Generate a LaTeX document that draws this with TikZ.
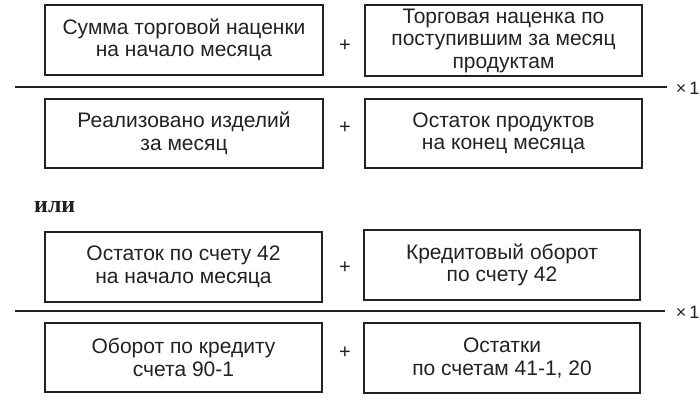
\documentclass[tikz,border=0pt]{standalone}
\usepackage{fontspec}
\setmainfont{Liberation Sans}
\newfontfamily\serifrm{Liberation Serif}
\definecolor{ink}{HTML}{222222}
\begin{document}
\begin{tikzpicture}[x=1pt,y=-1pt,
  box/.style={draw=ink,line width=1.4pt,align=center,inner sep=0pt,
    font=\fontsize{21}{22.5}\selectfont,text=ink},
  opsign/.style={text=ink,font=\fontsize{20}{22}\selectfont,inner sep=0pt},
  frac/.style={draw=ink,line width=1.4pt}]
\clip (0,0) rectangle (700,400);
\fill[white] (0,0) rectangle (700,400);
% first formula
\node[box,minimum width=278pt,minimum height=70pt] (b1) at (184,40) {Сумма торговой наценки\\на начало месяца};
\node[box,minimum width=277pt,minimum height=71pt] (b2) at (503.5,40.5) {Торговая наценка по\\поступившим за месяц\\продуктам};
\node[box,minimum width=278pt,minimum height=69pt] (b3) at (184,133.5) {Реализовано изделий\\за месяц};
\node[box,minimum width=277pt,minimum height=69pt] (b4) at (503.5,133.5) {Остаток продуктов\\на конец месяца};
\node[opsign] (p1) at (345,46) {+};
\node[opsign] (p2) at (345,128) {+};
\coordinate (l1a) at (15,87);
\coordinate (l1b) at (667,87);
\draw[frac] (l1a) -- (l1b);
\node[opsign,anchor=east,font=\fontsize{18}{20}\selectfont] (m1) at (699.5,88) {×\,1};
% or
\node[text=ink,font=\serifrm\bfseries\fontsize{24}{26}\selectfont,anchor=west,inner sep=0pt] (or) at (34,207) {или};
% second formula
\node[box,minimum width=277pt,minimum height=70pt] (b5) at (183.5,267) {Остаток по счету 42\\на начало месяца};
\node[box,minimum width=276pt,minimum height=70pt] (b6) at (502,265) {Кредитовый оборот\\по счету 42};
\node[box,minimum width=277pt,minimum height=69pt] (b7) at (183.5,357.5) {Оборот по кредиту\\счета 90-1};
\node[box,minimum width=276pt,minimum height=70pt] (b8) at (502,358) {Остатки\\по счетам 41-1, 20};
\node[opsign] (p3) at (345,268) {+};
\node[opsign] (p4) at (345,353) {+};
\coordinate (l2a) at (15,311);
\coordinate (l2b) at (665,311);
\draw[frac] (l2a) -- (l2b);
\node[opsign,anchor=east,font=\fontsize{18}{20}\selectfont] (m2) at (699.5,312) {×\,1};
\end{tikzpicture}
\end{document}
